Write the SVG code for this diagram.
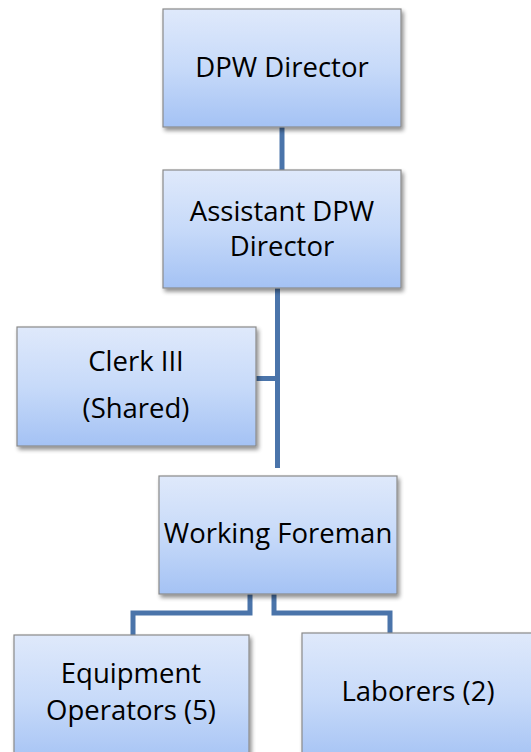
<svg xmlns="http://www.w3.org/2000/svg" width="531" height="752" viewBox="0 0 531 752">
<defs>
<linearGradient id="g" x1="0" y1="0" x2="0" y2="1">
<stop offset="0" stop-color="#dfe9fb"/>
<stop offset="0.5" stop-color="#c7daf9"/>
<stop offset="1" stop-color="#a4c2f4"/>
</linearGradient>
<filter id="sh" x="-10%" y="-10%" width="130%" height="130%">
<feGaussianBlur in="SourceAlpha" stdDeviation="2"/>
<feOffset dx="2" dy="3" result="b"/>
<feComponentTransfer><feFuncA type="linear" slope="0.45"/></feComponentTransfer>
<feMerge><feMergeNode/><feMergeNode in="SourceGraphic"/></feMerge>
</filter>
</defs>
<style>
.box{fill:url(#g);stroke:#8a8a8a;stroke-width:1.2;filter:url(#sh)}
.t{font-family:"Open Sans","Noto Sans",sans-serif;font-size:27.5px;fill:#000;text-anchor:middle}
.c{fill:none;stroke:#4a74aa;stroke-width:5}
</style>
<rect width="531" height="752" fill="#fff"/>
<g id="connectors">
<path class="c" d="M282 127 V170"/>
<path class="c" d="M277.5 288 V468"/>
<path class="c" d="M256 378.5 H277.5"/>
<path class="c" d="M250 594 V613 H133 V635"/>
<path class="c" d="M274 594 V613 H390 V633"/>
</g>
<g id="n1"><rect class="box" x="163" y="9" width="238" height="118"/><text class="t" x="282" y="77">DPW Director</text></g>
<g id="n2"><rect class="box" x="163" y="170" width="238" height="118"/><text class="t" x="282" y="221">Assistant DPW</text><text class="t" x="282" y="256">Director</text></g>
<g id="n3"><rect class="box" x="17" y="327" width="239" height="119"/><text class="t" x="136" y="371">Clerk III</text><text class="t" x="136" y="418">(Shared)</text></g>
<g id="n4"><rect class="box" x="159" y="476" width="238" height="118"/><text class="t" x="278" y="543">Working Foreman</text></g>
<g id="n5"><rect class="box" x="14" y="635" width="235" height="130"/><text class="t" x="131" y="683">Equipment</text><text class="t" x="131" y="720">Operators (5)</text></g>
<g id="n6"><rect class="box" x="302" y="633" width="238" height="130"/><text class="t" x="418" y="701">Laborers (2)</text></g>
</svg>
